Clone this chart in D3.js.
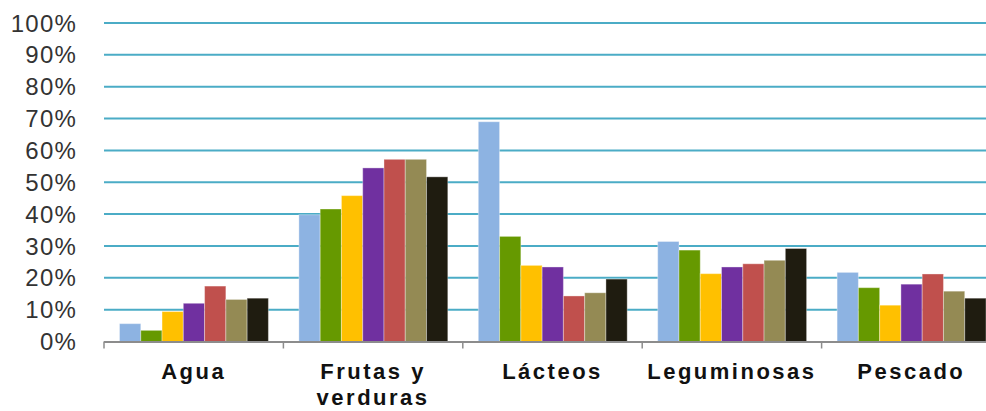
<!DOCTYPE html>
<html>
<head>
<meta charset="utf-8">
<script src="https://cdn.jsdelivr.net/npm/d3@7"></script>
<style>
  html, body { margin: 0; padding: 0; background: #fff; }
  svg { display: block; }
</style>
</head>
<body>
<svg id="chart" width="986" height="411"></svg>
<script>
const categories = ["Agua", "Frutas y verduras", "Lácteos", "Leguminosas", "Pescado"];
const categoryLines = [["Agua"], ["Frutas y", "verduras"], ["Lácteos"], ["Leguminosas"], ["Pescado"]];
const seriesNames = ["S1", "S2", "S3", "S4", "S5", "S6", "S7"];
const seriesColors = ["#8DB3E2", "#669900", "#FFC000", "#7030A0", "#C0504D", "#948A54", "#1F1C10"];
const values = [
  [5.6, 3.5, 9.4, 12.0, 17.4, 13.2, 13.6],
  [39.8, 41.6, 45.8, 54.5, 57.2, 57.2, 51.7],
  [69.0, 33.0, 23.9, 23.4, 14.3, 15.3, 19.6],
  [31.4, 28.7, 21.3, 23.4, 24.4, 25.5, 29.2],
  [21.7, 16.9, 11.4, 18.0, 21.2, 15.8, 13.6]
];
const yTicks = [0, 10, 20, 30, 40, 50, 60, 70, 80, 90, 100];

(function () {
const svg = d3.select("#chart");
const mLeft = 104, mRight = 1001, mTop = 23, mBottom = 341.5;

const x = d3.scaleBand().domain(categories).range([mLeft, mRight]).paddingInner(0).paddingOuter(0);
const xs = d3.scaleBand().domain(seriesNames).range([15.5, x.bandwidth() - 15]).padding(0);
const y = d3.scaleLinear().domain([0, 100]).range([mBottom, mTop]);

// gridlines
svg.append("g").selectAll("line").data(yTicks.filter(d => d > 0)).join("line")
  .attr("x1", mLeft).attr("x2", 986)
  .attr("y1", d => y(d)).attr("y2", d => y(d))
  .attr("stroke", "#4BACC6").attr("stroke-width", 2);

// y labels
svg.append("g").selectAll("text").data(yTicks).join("text")
  .attr("x", 77).attr("y", d => y(d))
  .attr("dy", "0.36em")
  .attr("text-anchor", "end")
  .attr("font-family", "Liberation Sans, Arial, sans-serif")
  .attr("font-size", 24)
  .attr("letter-spacing", "1.2px")
  .attr("fill", "#333")
  .text(d => d + "%");

// bars
const groups = svg.append("g").selectAll("g").data(categories).join("g")
  .attr("transform", d => `translate(${x(d)},0)`);
groups.selectAll("rect").data((d, i) => values[i].map((v, j) => ({ v, s: seriesNames[j], c: seriesColors[j] })))
  .join("rect")
  .attr("x", d => xs(d.s))
  .attr("width", xs.bandwidth())
  .attr("y", d => y(d.v))
  .attr("height", d => y(0) - y(d.v))
  .attr("fill", d => d.c)
  .attr("stroke", "rgba(255,255,255,0.35)")
  .attr("stroke-width", 1);

// x axis line
svg.append("line")
  .attr("x1", mLeft).attr("x2", 986)
  .attr("y1", mBottom + 0.5).attr("y2", mBottom + 0.5)
  .attr("stroke", "#8c8c8c").attr("stroke-width", 2);
// ticks at category boundaries
const boundaries = categories.map(c => x(c)).concat([x(categories[categories.length - 1]) + x.bandwidth()]);
svg.append("g").selectAll("line").data(boundaries).join("line")
  .attr("x1", d => d).attr("x2", d => d)
  .attr("y1", mBottom).attr("y2", mBottom + 7)
  .attr("stroke", "#8c8c8c").attr("stroke-width", 1.5);

// category labels
const lab = svg.append("g").selectAll("text").data(categories).join("text")
  .attr("x", d => x(d) + x.bandwidth() / 2)
  .attr("y", 379)
  .attr("text-anchor", "middle")
  .attr("font-family", "Liberation Sans, Arial, sans-serif")
  .attr("font-weight", "bold")
  .attr("font-size", 22)
  .attr("letter-spacing", "2.5px")
  .attr("fill", "#111");
lab.selectAll("tspan").data((d, i) => categoryLines[i]).join("tspan")
  .attr("x", function() { return d3.select(this.parentNode).attr("x"); })
  .attr("dy", (d, i) => i === 0 ? 0 : 26)
  .text(d => d);
})();
</script>
</body>
</html>
